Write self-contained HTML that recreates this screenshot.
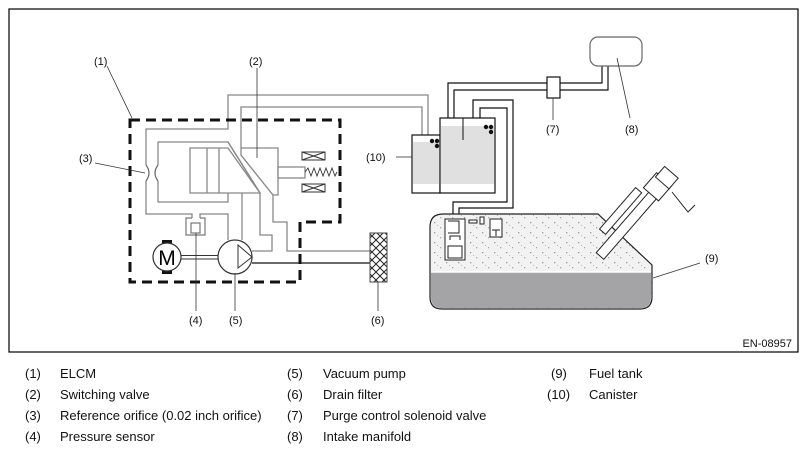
<!DOCTYPE html>
<html><head><meta charset="utf-8"><style>
html,body{margin:0;padding:0;background:#fff;}
body{width:804px;height:452px;overflow:hidden;font-family:"Liberation Sans",sans-serif;}
svg text{font-family:"Liberation Sans",sans-serif;}
</style></head><body>
<svg width="804" height="452" viewBox="0 0 804 452" xmlns="http://www.w3.org/2000/svg">
<defs>
<pattern id="dots" width="12" height="10" patternUnits="userSpaceOnUse">
<rect width="12" height="10" fill="#f2f2f2"/>
<rect x="2" y="2" width="1.3" height="1.3" fill="#999"/>
<rect x="8" y="7" width="1.3" height="1.3" fill="#aaa"/>
<rect x="5" y="5" width="1" height="1" fill="#bbb"/>
</pattern>
<pattern id="hatch" width="8" height="8" patternUnits="userSpaceOnUse">
<rect width="8" height="8" fill="#fff"/>
<path d="M0,0 L8,8 M8,0 L0,8" stroke="#222" stroke-width="1"/>
</pattern>
</defs>
<rect x="9" y="9" width="789" height="343" fill="none" stroke="#000" stroke-width="1.2"/>

<!-- gray pipes from ELCM to canister -->
<g fill="none" stroke="#888" stroke-width="1.3">
<path d="M146,165 V129 H228 V95 H428 V135"/>
<path d="M241,148 V107 H422 V135"/>
<path d="M146,181 V214 H192 V218"/>
<path d="M200,218 V214 H228 V240"/>
<path d="M158,165 V142 H228 L260,193"/>
<path d="M158,181 V202 H228 V193"/>
<path d="M242,193 V240"/>
<path d="M260,193 V235 H272 V251 H252"/>
<path d="M241,155 L273,195 V222 H287 V251 H370"/>
<path d="M228,142 L260,193"/>
</g>
<!-- orifice arcs -->
<g fill="none" stroke="#666" stroke-width="1.2">
<path d="M146,165 Q152,173 146,181"/>
<path d="M158,165 Q152,173 158,181"/>
</g>
<!-- spool block -->
<g fill="#fff" stroke="#888" stroke-width="1.3">
<path d="M190,148 H228 L260,193 H190 Z"/>
<line x1="207" y1="148" x2="207" y2="193"/>
<line x1="219" y1="148" x2="219" y2="193"/>
<path d="M241,148 H278 V195 H273 L241,155 Z"/>
<rect x="278" y="167" width="27" height="11"/>
</g>
<polyline points="305,172 308,168 311,176 314,168 317,176 320,168 323,176 326,168 329,176 332,168 335,176 337,172" fill="none" stroke="#333" stroke-width="0.9"/>
<g fill="#fff" stroke="#333" stroke-width="1">
<rect x="302" y="152" width="23" height="8"/><path d="M302,152 L325,160 M325,152 L302,160"/>
<rect x="302" y="184" width="23" height="8"/><path d="M302,184 L325,192 M325,184 L302,192"/>
</g>
<!-- pressure sensor -->
<g fill="#fff" stroke="#777" stroke-width="1.2">
<path d="M192,218 H186 V235 H205 V218 H200"/>
<rect x="191" y="223" width="9" height="10"/>
</g>
<!-- motor -->
<rect x="162" y="240" width="10" height="4" fill="#111"/>
<rect x="162" y="270" width="10" height="4" fill="#111"/>
<circle cx="167" cy="257" r="14" fill="#fff" stroke="#333" stroke-width="1.2"/>
<text x="167" y="265" text-anchor="middle" font-size="21">M</text>
<line x1="181" y1="255.5" x2="219" y2="255.5" stroke="#333" stroke-width="1"/>
<line x1="181" y1="259" x2="219" y2="259" stroke="#333" stroke-width="1"/>
<!-- pump -->
<circle cx="235" cy="257" r="17" fill="#fff" stroke="#333" stroke-width="1.2"/>
<path d="M238,245 L252,257 L238,268 Z" fill="#fff" stroke="#333" stroke-width="1"/>
<line x1="252" y1="263" x2="370" y2="263" stroke="#111" stroke-width="1.2"/>
<!-- filter -->
<rect x="370" y="233" width="17" height="49" fill="url(#hatch)" stroke="#444" stroke-width="1"/>
<!-- dashed ELCM -->
<path d="M130,120 H340 V222 H300 V282 H130 Z" fill="none" stroke="#111" stroke-width="3" stroke-dasharray="10,6"/>

<!-- canister -->
<rect x="412" y="135" width="28" height="58" fill="#fff" stroke="#111" stroke-width="1.2"/>
<rect x="413" y="142" width="27" height="42" fill="#e0e0e0"/>
<rect x="440" y="118" width="55" height="75" fill="#fff" stroke="#111" stroke-width="1.2"/>
<rect x="441" y="126" width="53" height="58" fill="#e0e0e0"/>
<line x1="440" y1="135" x2="440" y2="183" stroke="#111"/>
<line x1="463" y1="118" x2="463" y2="140" stroke="#111"/>
<g fill="#111">
<circle cx="432" cy="141" r="2.2"/><circle cx="437" cy="141" r="2.2"/><circle cx="437" cy="146" r="2.2"/>
<circle cx="486" cy="127" r="2.2"/><circle cx="491" cy="127" r="2.2"/><circle cx="491" cy="132" r="2.2"/>
</g>
<g fill="none" stroke="#111" stroke-width="1.2">
<path d="M448,118 V83 H547"/>
<path d="M454,118 V90 H547"/>
<path d="M560,83 H602 V66"/>
<path d="M560,90 H608 V66"/>
<path d="M473,118 V100 H513 V208 H459 V217"/>
<path d="M480,118 V108 H507 V202 H453 V217"/>
</g>
<rect x="547" y="77" width="13" height="21" fill="#fff" stroke="#111" stroke-width="1.2"/>
<rect x="590" y="37" width="52" height="29" rx="8" fill="#fff" stroke="#666" stroke-width="1.2"/>

<!-- tank -->
<path d="M443,214 H598 L652,265 V297 Q652,309 640,309 H442 Q430,309 430,297 V227 Q430,214 443,214 Z" fill="url(#dots)" stroke="#222" stroke-width="1.2"/>
<path d="M431,272 H651 V297 Q651,308 640,308 H442 Q431,308 431,297 Z" fill="#a4a4a6"/>
<line x1="431" y1="272" x2="651" y2="272" stroke="#fff" stroke-width="1.5"/>
<g fill="#fff" stroke="#222" stroke-width="1">
<rect x="445" y="219" width="20" height="41"/>
<rect x="448" y="246" width="14" height="12"/>
<path d="M448,221 H459 V233 H448 M450,240 V236 H460 V240"/>
<rect x="469" y="220" width="8" height="3"/>
<rect x="480" y="217" width="4" height="7"/>
<rect x="490" y="219" width="12" height="18"/>
<path d="M492,230 H500 M496,230 V236"/>
</g>
<!-- filler neck -->
<g transform="translate(600,256) rotate(-49)" fill="#fff" stroke="#222" stroke-width="1">
<rect x="0" y="-5" width="85" height="10"/>
<rect x="20" y="-18" width="55" height="8"/>
<rect x="80" y="-12" width="20" height="20"/>
<rect x="96" y="-10" width="14" height="18"/>
</g>
<path d="M672,192 L688,212 L695,205" fill="none" stroke="#222"/>

<!-- leaders -->
<g stroke="#333" stroke-width="0.8" fill="none">
<line x1="107" y1="66" x2="132" y2="118"/>
<line x1="257" y1="68" x2="257" y2="158"/>
<line x1="95" y1="163" x2="145" y2="173"/>
<line x1="196" y1="233" x2="196" y2="311"/>
<line x1="235" y1="273" x2="235" y2="311"/>
<line x1="378" y1="282" x2="378" y2="311"/>
<line x1="396" y1="157" x2="412" y2="157"/>
<line x1="553" y1="98" x2="553" y2="120"/>
<line x1="617" y1="58" x2="630" y2="118"/>
<line x1="653" y1="278" x2="700" y2="263"/>
</g>
<g font-size="11" fill="#111">
<text x="94" y="65">(1)</text>
<text x="249" y="65">(2)</text>
<text x="79" y="162">(3)</text>
<text x="366" y="161">(10)</text>
<text x="189" y="324">(4)</text>
<text x="229" y="324">(5)</text>
<text x="371" y="324">(6)</text>
<text x="546" y="133">(7)</text>
<text x="625" y="133">(8)</text>
<text x="705" y="262">(9)</text>
<text x="792" y="347" text-anchor="end">EN-08957</text>
</g>
<g font-size="13" fill="#111">
<text x="25" y="378">(1)</text><text x="60" y="378">ELCM</text>
<text x="25" y="399">(2)</text><text x="60" y="399">Switching valve</text>
<text x="25" y="420">(3)</text><text x="60" y="420">Reference orifice (0.02 inch orifice)</text>
<text x="25" y="441">(4)</text><text x="60" y="441">Pressure sensor</text>
<text x="287" y="378">(5)</text><text x="323" y="378">Vacuum pump</text>
<text x="287" y="399">(6)</text><text x="323" y="399">Drain filter</text>
<text x="287" y="420">(7)</text><text x="323" y="420">Purge control solenoid valve</text>
<text x="287" y="441">(8)</text><text x="323" y="441">Intake manifold</text>
<text x="551" y="378">(9)</text><text x="589" y="378">Fuel tank</text>
<text x="547" y="399">(10)</text><text x="589" y="399">Canister</text>
</g>
</svg>
</body></html>
